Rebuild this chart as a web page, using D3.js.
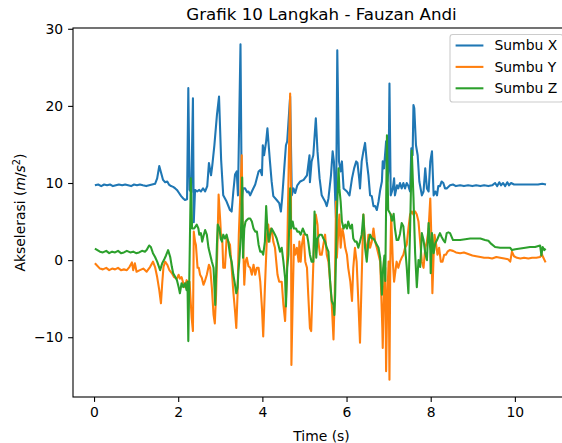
<!DOCTYPE html>
<html>
<head>
<meta charset="utf-8">
<script src="https://cdn.jsdelivr.net/npm/d3@7"></script>
<style>
  html, body { margin: 0; padding: 0; background: #fff; }
  svg { display: block; font-family: "DejaVu Sans", sans-serif; }
</style>
</head>
<body>
<svg id="chart" width="562" height="443"></svg>
<script>
// ---- Data ----
const title = "Grafik 10 Langkah - Fauzan Andi";
const xLabel = "Time (s)";
const seriesNames = ["Sumbu X", "Sumbu Y", "Sumbu Z"];
const seriesColors = ["#1f77b4", "#ff7f0e", "#2ca02c"];
const xTicks = [0, 2, 4, 6, 8, 10];
const yTicks = [-10, 0, 10, 20, 30];

const timeX = [0.02,0.10,0.17,0.24,0.31,0.38,0.45,0.52,0.59,0.67,0.74,0.81,0.88,0.95,1.02,1.09,1.16,1.24,1.31,1.38,1.45,1.50,1.55,1.59,1.64,1.69,1.74,1.78,1.83,1.88,1.93,1.97,2.02,2.07,2.12,2.16,2.21,2.24,2.27,2.31,2.35,2.37,2.40,2.45,2.50,2.54,2.59,2.64,2.69,2.73,2.78,2.81,2.86,2.92,2.97,3.02,3.07,3.15,3.23,3.27,3.31,3.35,3.39,3.42,3.48,3.51,3.54,3.59,3.64,3.67,3.71,3.75,3.83,3.91,3.95,3.99,4.01,4.04,4.09,4.12,4.15,4.18,4.22,4.26,4.34,4.40,4.44,4.47,4.52,4.56,4.59,4.66,4.70,4.74,4.78,4.83,4.90,4.98,5.06,5.12,5.13,5.17,5.21,5.27,5.31,5.36,5.41,5.45,5.49,5.53,5.57,5.63,5.67,5.70,5.73,5.75,5.78,5.82,5.86,5.89,5.93,6.01,6.07,6.13,6.18,6.23,6.26,6.30,6.32,6.36,6.40,6.44,6.48,6.52,6.56,6.60,6.64,6.68,6.72,6.76,6.80,6.84,6.86,6.89,6.94,6.97,7.00,7.02,7.05,7.10,7.13,7.15,7.20,7.23,7.27,7.31,7.35,7.39,7.43,7.47,7.51,7.54,7.57,7.59,7.61,7.65,7.69,7.73,7.79,7.83,7.87,7.91,7.95,7.99,8.03,8.07,8.11,8.15,8.18,8.22,8.26,8.30,8.34,8.38,8.46,8.53,8.60,8.70,8.79,8.89,8.99,9.08,9.18,9.27,9.37,9.46,9.53,9.58,9.63,9.67,9.72,9.77,9.82,9.86,9.91,9.98,10.08,10.17,10.27,10.36,10.46,10.55,10.65,10.74];
const accX = [9.7,9.8,9.6,9.8,9.7,9.8,9.6,9.7,9.8,9.7,9.8,9.7,9.6,9.8,9.7,9.8,9.7,9.6,9.7,9.8,9.9,10.6,12.2,11.4,10.4,10.1,10.2,9.8,9.6,9.5,9.3,9.1,8.7,8.3,8.0,7.8,7.9,22.3,9.1,8.8,21.0,4.9,9.1,8.9,9.1,8.9,9.3,8.9,9.6,12.6,11.0,12.3,14.9,18.8,21.2,13.0,8.4,7.6,6.5,6.3,8.9,11.1,11.5,8.4,28.0,7.6,9.3,9.3,8.8,8.9,8.4,8.9,9.8,11.5,11.7,11.0,14.9,13.6,15.4,17.1,14.9,12.8,10.2,8.3,7.8,7.4,6.3,8.0,11.9,14.9,15.4,21.2,8.4,9.3,8.7,9.7,10.2,10.4,11.0,13.6,10.1,12.8,13.6,18.4,14.1,10.6,8.4,8.0,7.6,7.0,8.0,11.0,14.1,12.8,8.0,5.4,27.2,12.8,11.5,12.8,9.3,8.9,8.4,10.6,11.9,12.8,12.6,10.6,9.3,12.8,14.1,15.2,12.8,11.0,8.4,8.3,7.0,7.0,6.5,7.6,9.1,10.2,12.8,11.9,15.4,10.2,11.9,22.9,8.4,9.3,10.6,8.4,9.7,9.3,10.0,9.3,10.0,9.3,10.0,9.6,8.9,14.5,13.6,20.1,19.7,14.9,13.6,10.2,8.4,8.9,11.9,9.3,8.9,12.8,14.1,8.4,8.9,8.4,9.6,9.6,10.2,10.0,9.3,9.3,9.7,9.8,9.6,9.7,9.6,9.7,9.6,9.7,9.6,9.7,9.6,9.7,10.0,9.6,10.1,9.7,10.0,9.6,10.1,9.7,10.0,9.8,9.8,9.8,9.8,9.8,9.8,9.8,9.9,9.8];

const timeY = [0.02,0.14,0.21,0.29,0.36,0.43,0.50,0.57,0.64,0.71,0.78,0.84,0.90,0.93,0.97,1.01,1.09,1.17,1.25,1.33,1.40,1.45,1.50,1.55,1.59,1.62,1.65,1.69,1.74,1.79,1.85,1.90,1.97,2.01,2.04,2.08,2.12,2.16,2.20,2.22,2.27,2.32,2.35,2.37,2.40,2.42,2.46,2.49,2.52,2.56,2.60,2.63,2.68,2.73,2.76,2.80,2.84,2.87,2.90,2.93,2.96,3.00,3.02,3.05,3.07,3.11,3.15,3.19,3.23,3.26,3.31,3.35,3.38,3.41,3.44,3.49,3.51,3.53,3.57,3.60,3.63,3.67,3.71,3.75,3.79,3.83,3.87,3.91,3.95,3.99,4.02,4.06,4.11,4.14,4.17,4.20,4.23,4.26,4.30,4.33,4.36,4.40,4.46,4.50,4.54,4.58,4.60,4.63,4.66,4.68,4.69,4.72,4.75,4.78,4.82,4.86,4.88,4.91,4.94,4.98,5.02,5.06,5.09,5.13,5.16,5.20,5.23,5.27,5.31,5.33,5.37,5.41,5.45,5.49,5.53,5.57,5.61,5.65,5.69,5.72,5.75,5.77,5.80,5.83,5.86,5.90,5.93,5.97,6.01,6.04,6.09,6.13,6.16,6.20,6.24,6.28,6.32,6.36,6.40,6.44,6.48,6.52,6.56,6.60,6.64,6.68,6.72,6.76,6.80,6.82,6.85,6.86,6.89,6.92,6.94,6.97,7.00,7.02,7.04,7.06,7.10,7.13,7.15,7.19,7.23,7.27,7.31,7.35,7.39,7.43,7.47,7.51,7.55,7.59,7.63,7.67,7.71,7.75,7.79,7.83,7.87,7.91,7.95,7.99,8.01,8.04,8.07,8.09,8.13,8.16,8.20,8.24,8.28,8.32,8.36,8.40,8.45,8.53,8.60,8.70,8.79,8.89,8.99,9.08,9.18,9.27,9.37,9.46,9.56,9.65,9.75,9.84,9.89,9.93,9.98,10.05,10.13,10.22,10.32,10.41,10.51,10.60,10.64,10.67,10.73];
const accY = [-0.4,-1.1,-1.2,-1.0,-1.3,-1.1,-1.2,-1.0,-1.3,-1.2,-1.3,-0.9,-0.3,-1.3,-0.4,-1.5,-1.3,-1.1,-1.5,-0.9,-0.2,-0.9,-2.2,-3.9,-5.6,-3.0,-0.9,-0.2,-0.6,-1.3,-1.7,-2.2,-2.4,-1.9,-2.4,-2.2,-3.0,-3.5,-2.6,-2.8,-2.8,-7.5,-9.2,3.7,2.4,2.0,-1.0,-1.0,-1.9,-2.3,-3.2,-2.8,-1.9,-0.6,-1.0,-3.6,-7.1,-8.2,-4.5,1.6,8.5,5.0,2.8,2.4,-1.0,-1.0,2.8,2.4,2.0,-0.2,-4.1,-6.6,-8.8,-4.5,3.3,10.6,13.6,5.0,-3.2,-0.2,0.3,-0.8,-1.0,-1.9,-0.6,-1.9,-1.0,-1.0,-2.8,-6.2,-9.9,-3.6,3.3,4.6,2.4,4.1,3.7,2.4,1.6,-0.2,-1.9,-2.8,-2.8,-5.8,-7.9,-2.3,4.1,13.6,21.6,8.5,-13.6,-5.3,2.0,0.7,1.6,-0.2,2.4,-0.2,2.0,3.3,-0.2,-1.0,-4.5,-8.8,-9.2,-2.3,2.8,5.9,4.6,2.4,0.7,0.7,2.0,3.3,0.7,-0.2,-2.8,-5.8,-10.3,-4.5,7.6,0.3,3.3,5.9,1.6,4.1,3.3,1.6,0.7,-1.0,-2.8,-5.3,-1.0,1.6,-0.2,-5.3,-10.7,-2.3,5.9,2.4,0.7,3.3,1.6,2.4,4.1,2.4,1.6,0.7,-0.2,-3.6,-8.8,-11.4,-3.6,-1.0,-14.4,-4.5,-0.2,-15.5,-0.2,5.9,-0.2,-2.8,-1.9,-0.2,-1.0,-0.2,0.3,0.7,1.6,2.0,4.1,5.9,6.3,5.9,6.3,5.9,5.0,2.4,-0.2,-1.0,1.6,2.4,4.1,8.0,4.1,-4.3,0.7,3.3,2.0,0.7,1.6,-0.2,-0.2,0.7,0.7,1.1,1.3,1.2,1.0,0.9,1.0,0.8,0.6,0.5,0.4,0.3,0.3,0.2,0.4,0.3,0.2,0.1,-0.2,1.1,0.5,0.3,0.2,0.3,0.2,0.3,0.3,0.4,0.8,0.4,-0.3];

const timeZ = [0.02,0.14,0.21,0.29,0.36,0.43,0.50,0.57,0.64,0.71,0.78,0.86,0.93,1.00,1.07,1.14,1.21,1.25,1.31,1.35,1.40,1.45,1.50,1.57,1.62,1.66,1.71,1.76,1.81,1.85,1.88,1.93,1.97,2.01,2.04,2.08,2.12,2.16,2.20,2.22,2.24,2.27,2.30,2.33,2.38,2.44,2.48,2.50,2.54,2.57,2.60,2.64,2.68,2.72,2.76,2.80,2.84,2.88,2.92,2.94,2.98,3.01,3.04,3.07,3.11,3.15,3.19,3.23,3.27,3.31,3.35,3.38,3.41,3.43,3.45,3.49,3.52,3.54,3.57,3.60,3.63,3.67,3.71,3.75,3.79,3.83,3.87,3.91,3.95,3.99,4.02,4.06,4.09,4.12,4.15,4.18,4.22,4.26,4.30,4.34,4.38,4.42,4.46,4.50,4.54,4.56,4.59,4.62,4.66,4.68,4.72,4.75,4.80,4.83,4.87,4.91,4.96,5.02,5.06,5.09,5.13,5.17,5.21,5.24,5.28,5.31,5.36,5.41,5.45,5.49,5.53,5.57,5.61,5.65,5.69,5.71,5.73,5.77,5.81,5.83,5.86,5.89,5.93,5.97,6.01,6.04,6.09,6.13,6.16,6.20,6.24,6.28,6.32,6.36,6.40,6.44,6.48,6.52,6.56,6.60,6.64,6.68,6.72,6.76,6.80,6.84,6.87,6.90,6.92,6.96,6.99,7.04,7.08,7.12,7.15,7.19,7.23,7.27,7.31,7.35,7.39,7.43,7.47,7.51,7.55,7.59,7.63,7.67,7.71,7.75,7.79,7.83,7.87,7.91,7.95,7.99,8.00,8.03,8.07,8.11,8.15,8.18,8.22,8.26,8.30,8.34,8.38,8.42,8.46,8.53,8.60,8.70,8.82,8.94,9.06,9.18,9.29,9.37,9.44,9.53,9.65,9.77,9.89,9.93,10.01,10.13,10.25,10.36,10.48,10.60,10.63,10.66,10.70,10.73];
const accZ = [1.5,1.1,1.0,1.2,0.9,1.1,1.0,1.2,0.9,1.0,1.2,1.0,1.1,0.9,1.0,1.2,1.1,1.3,1.9,1.7,0.9,0.4,-0.2,-1.3,-0.4,0.0,0.6,1.3,0.4,-0.9,-1.7,-2.2,-2.6,-3.5,-4.3,-3.0,-3.5,-3.0,-3.9,-2.8,-10.5,-0.1,10.6,4.1,4.1,4.6,4.1,3.3,3.5,2.4,3.1,3.9,3.3,1.6,0.7,-0.2,-1.0,-5.8,2.0,4.6,4.1,2.8,2.4,3.3,2.8,3.3,2.4,0.7,-0.2,-1.9,-3.2,-4.3,-3.6,-1.5,-0.2,3.3,10.7,0.3,4.1,5.0,5.2,5.4,5.4,5.0,4.1,3.7,3.7,2.0,1.1,1.1,0.7,2.4,7.0,4.1,2.4,3.3,4.1,3.7,3.3,2.8,2.0,1.1,1.6,-0.2,-2.3,-6.0,-1.0,0.7,9.3,4.1,5.0,4.1,4.1,3.7,3.7,3.3,4.1,3.3,3.3,2.4,0.7,-0.2,-0.2,6.3,0.3,2.8,3.3,3.3,2.8,2.4,1.6,1.1,-2.8,-5.3,-5.8,-7.1,-4.5,5.9,11.9,9.3,7.6,5.0,4.1,4.6,4.1,5.0,4.1,4.6,2.8,2.4,2.4,1.6,2.4,3.3,5.9,1.6,-0.2,2.4,3.3,2.8,2.8,2.4,2.0,1.6,0.3,-4.5,-1.0,0.6,-2.7,16.2,6.5,6.0,5.1,6.0,4.1,2.6,2.6,3.4,4.8,4.4,1.8,-0.9,-4.3,3.9,14.2,8.2,0.9,-3.5,0.0,-0.9,3.5,2.6,0.9,0.0,4.8,1.3,-1.7,3.5,0.9,2.2,2.6,3.0,3.5,3.0,2.6,2.3,3.5,3.6,3.5,2.6,2.6,2.6,2.7,2.8,2.8,2.8,2.6,2.5,2.1,1.7,1.6,1.6,1.6,1.3,1.4,1.5,1.6,1.7,1.7,1.9,0.6,1.7,1.3,1.5];

// ---- Layout ----
const svg = d3.select("#chart");
const W = 562, H = 443;
const m = { left: 73, top: 28, right: 570, bottom: 397 };

const x = d3.scaleLinear().domain([-0.5, 11.31]).range([m.left, m.right]);
const y = d3.scaleLinear().domain([-17.75, 30.1]).range([m.bottom, m.top]);

const FS = 13.9;

// clip
svg.append("clipPath").attr("id", "clip").append("rect")
  .attr("x", m.left).attr("y", m.top)
  .attr("width", m.right - m.left).attr("height", m.bottom - m.top);

// series
const series = [
  { name: seriesNames[0], t: timeX, v: accX, color: seriesColors[0] },
  { name: seriesNames[1], t: timeY, v: accY, color: seriesColors[1] },
  { name: seriesNames[2], t: timeZ, v: accZ, color: seriesColors[2] }
];
const line = d3.line().x(d => x(d[0])).y(d => y(d[1]));
const gLines = svg.append("g").attr("clip-path", "url(#clip)");
series.forEach(s => {
  const pts = s.t.map((t, i) => [t, s.v[i]]);
  gLines.append("path").datum(pts)
    .attr("d", line)
    .attr("fill", "none")
    .attr("stroke", s.color)
    .attr("stroke-width", 2.08)
    .attr("stroke-linejoin", "round")
    .attr("stroke-linecap", "butt");
});

// axes
const xAxis = d3.axisBottom(x).tickValues(xTicks).tickSize(4.9).tickPadding(4.9)
  .tickFormat(d3.format("d"));
const yAxis = d3.axisLeft(y).tickValues(yTicks).tickSize(4.9).tickPadding(4.9)
  .tickFormat(d => d < 0 ? "\u2212" + Math.abs(d) : String(d));

const gx = svg.append("g").attr("transform", `translate(0,${m.bottom})`).call(xAxis);
const gy = svg.append("g").attr("transform", `translate(${m.left},0)`).call(yAxis);
[gx, gy].forEach(g => {
  g.select(".domain").remove();
  g.selectAll(".tick line").attr("stroke", "#000").attr("stroke-width", 1.1);
  g.selectAll(".tick text").attr("fill", "#000")
    .style("font-family", "DejaVu Sans").style("font-size", FS + "px");
});

// spines
svg.append("rect")
  .attr("x", m.left).attr("y", m.top)
  .attr("width", m.right - m.left).attr("height", m.bottom - m.top)
  .attr("fill", "none").attr("stroke", "#000").attr("stroke-width", 1.1);

// title
svg.append("text")
  .attr("x", (m.left + m.right) / 2).attr("y", m.top - 8.3)
  .attr("text-anchor", "middle")
  .style("font-size", "16.7px").attr("fill", "#000")
  .text(title);

// x label
svg.append("text")
  .attr("x", (m.left + m.right) / 2).attr("y", 441)
  .attr("text-anchor", "middle")
  .style("font-size", FS + "px").attr("fill", "#000")
  .text(xLabel);

// y label with math
const yl = svg.append("text")
  .attr("transform", `translate(24.5,${(m.top + m.bottom) / 2}) rotate(-90)`)
  .attr("text-anchor", "middle")
  .style("font-size", FS + "px").attr("fill", "#000");
yl.append("tspan").text("Akselerasi (");
yl.append("tspan").style("font-style", "italic").text("m");
yl.append("tspan").text("/");
yl.append("tspan").style("font-style", "italic").text("s");
yl.append("tspan").attr("dy", -5).style("font-size", "9.7px").text("2");
yl.append("tspan").attr("dy", 5).text(")");

// legend
const lg = svg.append("g");
const lx = 450, ly = 34.5, lw = 113, lh = 67.5;
lg.append("rect")
  .attr("x", lx).attr("y", ly).attr("width", lw).attr("height", lh)
  .attr("rx", 2.8).attr("ry", 2.8)
  .attr("fill", "#fff").attr("fill-opacity", 0.8)
  .attr("stroke", "#cccccc").attr("stroke-width", 1.1);
series.forEach((s, i) => {
  const cy = 45.5 + i * 21.4;
  lg.append("line")
    .attr("x1", lx + 5.6).attr("x2", lx + 5.6 + 27.8)
    .attr("y1", cy).attr("y2", cy)
    .attr("stroke", s.color).attr("stroke-width", 2.08);
  lg.append("text")
    .attr("x", lx + 5.6 + 27.8 + 11.1).attr("y", cy)
    .attr("dy", "0.35em")
    .style("font-size", FS + "px").attr("fill", "#000")
    .text(s.name);
});
</script>
</body>
</html>
